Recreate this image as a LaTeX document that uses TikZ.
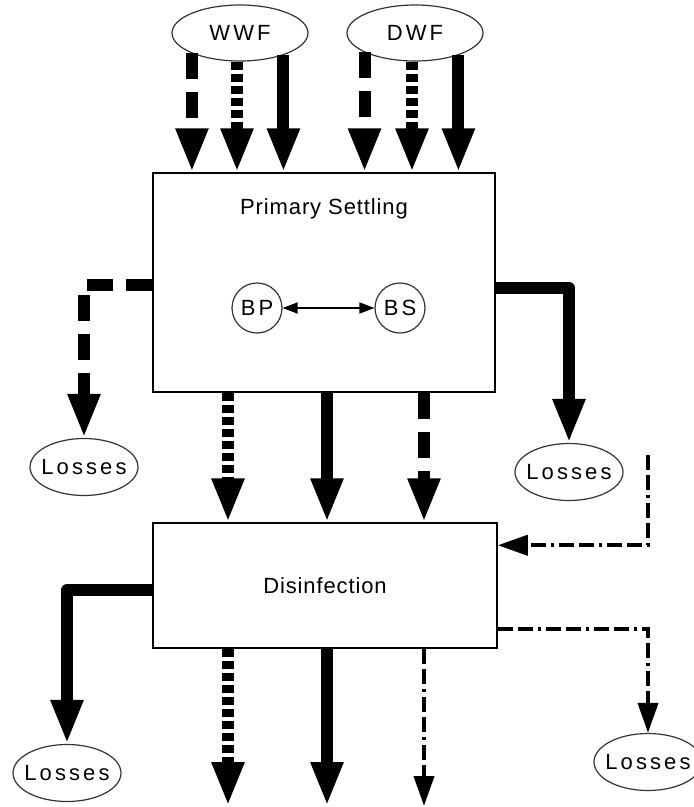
\documentclass[tikz,border=0pt]{standalone}
\usepackage{fontspec}
\usepackage{tikz}
\usetikzlibrary{arrows.meta, shapes.geometric, positioning}
\newfontfamily\lblfont[LetterSpace=14]{Liberation Sans}
\newfontfamily\ttlfont[LetterSpace=4]{Liberation Sans}
\tikzset{
  unit/.style = {draw=black, line width=1.5pt, inner sep=0pt,
    font=\ttlfont\fontsize{22}{26}\selectfont},
  unitlbl/.style = {inner sep=0pt, font=\ttlfont\fontsize{22}{26}\selectfont},
  src/.style = {ellipse, draw=black!80, line width=1.2pt, fill=white,
    inner sep=0pt, minimum width=136pt, minimum height=56pt,
    font=\lblfont\fontsize{22}{26}\selectfont},
  loss/.style = {src, inner xsep=-16pt, minimum width=108pt, minimum height=57pt},
  bio/.style = {circle, draw=black!80, line width=1.2pt, inner sep=0pt,
    minimum size=50pt, font=\lblfont\fontsize{22}{26}\selectfont},
  flow/.style = {line width=12pt, line join=round,
    -{Triangle[width=30pt,length=44pt]}},
  solidflow/.style = {flow},
  dashflow/.style = {flow, dash pattern=on 26pt off 13pt},
  dotflow/.style = {flow, dash pattern=on 8pt off 4pt},
  ddflow/.style = {line width=4pt,
    dash pattern=on 15pt off 5pt on 15pt off 5pt on 3pt off 5pt,
    -{Triangle[width=20pt,length=30pt]}}
}
\begin{document}
\begin{tikzpicture}[x=1pt, y=-1pt, >={Triangle[width=11pt,length=15pt]}]
\useasboundingbox (0,0) rectangle (694,807);
% sources
\node [src] (wwf) at (240,33) {WWF};
\node [src] (dwf) at (415,33) {DWF};
% treatment units
\node [unit, minimum width=342pt, minimum height=219pt] (ps) at (324,282.5) {};
\node [unitlbl, below=26pt of ps.north] (pslbl) {Primary Settling};
\node [unit, minimum width=344pt, minimum height=125pt] (dis) at (325,585.5) {Disinfection};
\node [bio] (bp) at (257,308) {BP};
\node [bio] (bs) at (400,308) {BS};
% losses
\node [loss] (lossA) at (84,467) {Losses};
\node [loss] (lossB) at (569,472) {Losses};
\node [loss] (lossC) at (67,773) {Losses};
\node [loss] (lossD) at (648,762) {Losses};
% free ends
\coordinate (rin) at (648,455);
\coordinate (outA) at (228,806);
\coordinate (outB) at (327,806);
\coordinate (outC) at (424,806);

% inflows
\draw [dashflow] (wwf.-157) -- (wwf.-157 |- ps.north);
\draw [dotflow] (wwf.-96) -- (wwf.-96 |- ps.north);
\draw [solidflow] (wwf.-27) -- (wwf.-27 |- ps.north);
\draw [dashflow] (dwf.-159) -- (dwf.-159 |- ps.north);
\draw [dotflow] (dwf.-96) -- (dwf.-96 |- ps.north);
\draw [solidflow] (dwf.-27) -- (dwf.-27 |- ps.north);

\draw [<->, line width=1.5pt] (bp) -- (bs);

% primary settling out
\draw [dashflow] ([yshift=-2.5pt]ps.west) -| (lossA.north);
\draw [solidflow] ([yshift=-5.5pt]ps.east) -| (lossB.north);
\draw [dotflow] (ps.south -| outA) -- (outA |- dis.north);
\draw [solidflow] (ps.south -| outB) -- (outB |- dis.north);
\draw [dashflow] (ps.south -| outC) -- (outC |- dis.north);

% disinfection in/out
\draw [ddflow] (rin) |- ([yshift=-23pt]dis.north east);
\draw [solidflow] ([yshift=-4.5pt]dis.west) -| (lossC.north);
\draw [ddflow] ([yshift=20pt]dis.south east) -| (lossD.north);
\draw [dotflow] (dis.south -| outA) -- (outA);
\draw [solidflow] (dis.south -| outB) -- (outB);
\draw [ddflow] (dis.south -| outC) -- (outC);
\end{tikzpicture}
\end{document}
